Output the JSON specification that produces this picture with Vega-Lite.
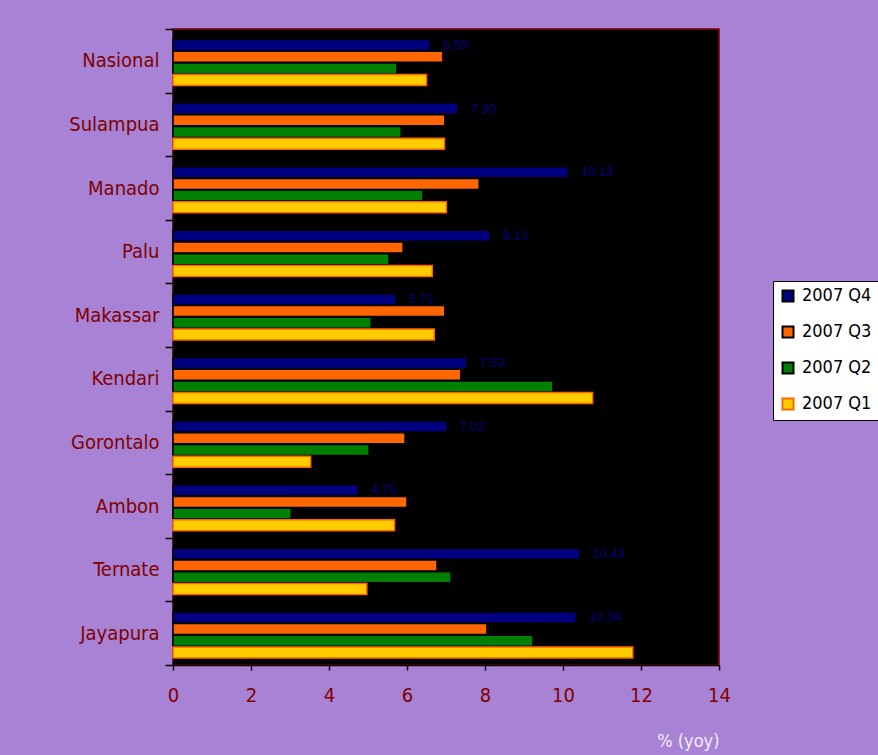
{
  "$schema": "https://vega.github.io/schema/vega-lite/v6.json",
  "width": 546,
  "height": 636,
  "autosize": {"type": "none"},
  "padding": {"left": 173, "top": 29, "right": 159, "bottom": 90},
  "background": "#a882d4",
  "config": {
    "view": {"fill": "black", "stroke": "#800000", "strokeWidth": 1.5}
  },
  "data": {
    "values": [
      {"region": "Nasional", "series": "2007 Q4", "value": 6.59},
      {"region": "Nasional", "series": "2007 Q3", "value": 6.92},
      {"region": "Nasional", "series": "2007 Q2", "value": 5.74},
      {"region": "Nasional", "series": "2007 Q1", "value": 6.5},
      {"region": "Sulampua", "series": "2007 Q4", "value": 7.3},
      {"region": "Sulampua", "series": "2007 Q3", "value": 6.97},
      {"region": "Sulampua", "series": "2007 Q2", "value": 5.85},
      {"region": "Sulampua", "series": "2007 Q1", "value": 6.96},
      {"region": "Manado", "series": "2007 Q4", "value": 10.13},
      {"region": "Manado", "series": "2007 Q3", "value": 7.85},
      {"region": "Manado", "series": "2007 Q2", "value": 6.41},
      {"region": "Manado", "series": "2007 Q1", "value": 7.01},
      {"region": "Palu", "series": "2007 Q4", "value": 8.13},
      {"region": "Palu", "series": "2007 Q3", "value": 5.9},
      {"region": "Palu", "series": "2007 Q2", "value": 5.54},
      {"region": "Palu", "series": "2007 Q1", "value": 6.65},
      {"region": "Makassar", "series": "2007 Q4", "value": 5.71},
      {"region": "Makassar", "series": "2007 Q3", "value": 6.97},
      {"region": "Makassar", "series": "2007 Q2", "value": 5.08},
      {"region": "Makassar", "series": "2007 Q1", "value": 6.7},
      {"region": "Kendari", "series": "2007 Q4", "value": 7.53},
      {"region": "Kendari", "series": "2007 Q3", "value": 7.38},
      {"region": "Kendari", "series": "2007 Q2", "value": 9.74},
      {"region": "Kendari", "series": "2007 Q1", "value": 10.76},
      {"region": "Gorontalo", "series": "2007 Q4", "value": 7.02},
      {"region": "Gorontalo", "series": "2007 Q3", "value": 5.95},
      {"region": "Gorontalo", "series": "2007 Q2", "value": 5.03},
      {"region": "Gorontalo", "series": "2007 Q1", "value": 3.53},
      {"region": "Ambon", "series": "2007 Q4", "value": 4.75},
      {"region": "Ambon", "series": "2007 Q3", "value": 6.0},
      {"region": "Ambon", "series": "2007 Q2", "value": 3.03},
      {"region": "Ambon", "series": "2007 Q1", "value": 5.68},
      {"region": "Ternate", "series": "2007 Q4", "value": 10.43},
      {"region": "Ternate", "series": "2007 Q3", "value": 6.77},
      {"region": "Ternate", "series": "2007 Q2", "value": 7.13},
      {"region": "Ternate", "series": "2007 Q1", "value": 4.97},
      {"region": "Jayapura", "series": "2007 Q4", "value": 10.34},
      {"region": "Jayapura", "series": "2007 Q3", "value": 8.05},
      {"region": "Jayapura", "series": "2007 Q2", "value": 9.23},
      {"region": "Jayapura", "series": "2007 Q1", "value": 11.79}
    ]
  },
  "encoding": {
    "y": {
      "field": "region",
      "type": "nominal",
      "sort": ["Nasional", "Sulampua", "Manado", "Palu", "Makassar", "Kendari", "Gorontalo", "Ambon", "Ternate", "Jayapura"],
      "scale": {"paddingInner": 0, "paddingOuter": 0},
      "title": null,
      "axis": {
        "tickBand": "extent",
        "domainColor": "black",
        "domainWidth": 1.5,
        "tickColor": "black",
        "tickWidth": 1.5,
        "tickSize": 8,
        "labelColor": "#800000",
        "labelFont": "DejaVu Sans Condensed, DejaVu Sans",
        "labelFontSize": 20,
        "labelPadding": 6
      }
    },
    "yOffset": {
      "field": "series",
      "type": "nominal",
      "sort": ["2007 Q4", "2007 Q3", "2007 Q2", "2007 Q1"],
      "scale": {"paddingInner": 0.06, "paddingOuter": 0.75, "align": 0.6}
    },
    "x": {
      "field": "value",
      "type": "quantitative",
      "scale": {"domain": [0, 14]},
      "axis": {
        "values": [0, 2, 4, 6, 8, 10, 12, 14],
        "grid": false,
        "labelFlush": false,
        "domainColor": "black",
        "domainWidth": 1.5,
        "tickColor": "black",
        "tickWidth": 1.5,
        "tickSize": 5,
        "labelColor": "#800000",
        "labelFont": "DejaVu Sans Condensed, DejaVu Sans",
        "labelFontSize": 20,
        "labelPadding": 15,
        "title": "% (yoy)",
        "titleColor": "#f4eefa",
        "titleFont": "DejaVu Sans Condensed, DejaVu Sans",
        "titleFontSize": 18,
        "titleFontWeight": "normal",
        "titleAnchor": "end",
        "titlePadding": 27
      }
    }
  },
  "layer": [
    {
      "mark": {"type": "bar", "strokeWidth": 1.5},
      "encoding": {
        "fill": {
          "field": "series",
          "type": "nominal",
          "scale": {
            "domain": ["2007 Q4", "2007 Q3", "2007 Q2", "2007 Q1"],
            "range": ["#000080", "#ff6600", "#008000", "#ffcc00"]
          },
          "legend": {
            "title": null,
            "orient": "none",
            "legendX": 600,
            "legendY": 252,
            "fillColor": "white",
            "strokeColor": "black",
            "padding": 6,
            "symbolType": "square",
            "symbolSize": 121,
            "symbolStrokeWidth": 2,
            "labelFont": "DejaVu Sans Condensed, DejaVu Sans",
            "labelFontSize": 18,
            "labelColor": "black",
            "labelOffset": 5,
            "rowPadding": 16
          }
        },
        "stroke": {
          "field": "series",
          "type": "nominal",
          "scale": {
            "domain": ["2007 Q4", "2007 Q3", "2007 Q2", "2007 Q1"],
            "range": ["black", "black", "black", "#ff6600"]
          }
        }
      }
    },
    {
      "transform": [{"filter": "datum.series === '2007 Q4'"}],
      "mark": {
        "type": "text",
        "align": "left",
        "baseline": "middle",
        "dx": 13,
        "font": "Liberation Sans",
        "fontSize": 13,
        "color": "#000080"
      },
      "encoding": {
        "text": {"field": "value", "type": "quantitative", "format": ".2f"}
      }
    }
  ]
}
